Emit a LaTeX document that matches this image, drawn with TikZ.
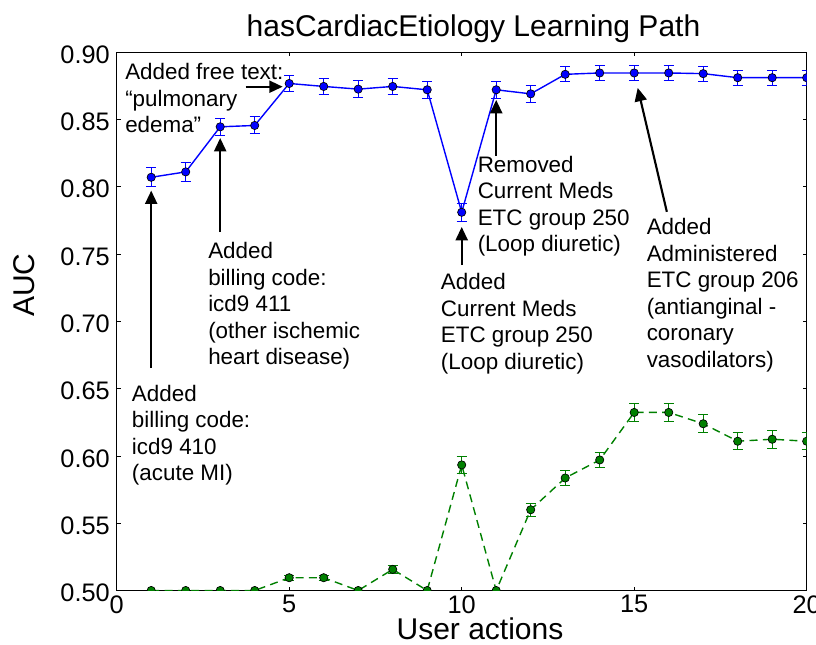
\documentclass[tikz,border=0pt]{standalone}
\usepackage{fontspec}
\setmainfont{Liberation Sans}
\usetikzlibrary{arrows.meta}
\definecolor{mplgreen}{rgb}{0,0.5,0}
\tikzstyle{note} = [anchor=north west, inner sep=0pt, align=left, font=\fontsize{16.8}{19.9}\selectfont]
\tikzstyle{callout} = [draw, line width=1.6pt, -{Triangle[length=10pt,width=9pt]}]
\tikzstyle{ticklabel} = [inner sep=0pt, font=\fontsize{19}{22}\selectfont]
\tikzstyle{axislabel} = [inner sep=0pt, font=\fontsize{22.5}{26}\selectfont]
\tikzstyle{errbar} = [line width=0.75pt]
\tikzstyle{aucline} = [draw=blue, line width=1.05pt]
\tikzstyle{baseline} = [draw=mplgreen, line width=1.05pt, dash pattern=on 6pt off 4pt]
\tikzstyle{aucdot} = [circle, draw=black, line width=0.5pt, fill=blue, inner sep=0pt, minimum size=6.2pt]
\tikzstyle{basedot} = [aucdot, fill=mplgreen]

\begin{document}
\begin{tikzpicture}[x=0.75pt, y=-0.75pt]
        \useasboundingbox (0,0) rectangle (816,644);

        \node[axislabel, anchor=base] (title) at (473.5,36) {hasCardiacEtiology Learning Path};
        \node[axislabel, anchor=base] (xlabel) at (480,639) {User actions};
        \node[axislabel, rotate=90] (ylabel) at (24,285) {AUC};

        \begin{scope}[shift={(116.7,590.5)}, x=25.875pt, y=1009.5pt, shift={(0,-0.5)}]
            \draw[line width=0.75pt] (0,0.5) rectangle (20,0.9);
            \foreach \t in {0,5,10,15,20} {
                \draw[line width=0.6pt] (\t,0.5) -- ++(0,3pt) (\t,0.9) -- ++(0,-3pt);
                \node[ticklabel, anchor=north] (xt\t) at ([yshift=-3.4pt]\t,0.5) {\t};
            }
            \foreach \v [count=\k] in {0.50,0.55,0.60,0.65,0.70,0.75,0.80,0.85,0.90} {
                \draw[line width=0.6pt] (0,\v) -- ++(3pt,0) (20,\v) -- ++(-3pt,0);
                \node[ticklabel, anchor=east] (yt\k) at ([xshift=-5pt, yshift=-1.8pt]0,\v) {\v};
            }

            \begin{scope}
                \clip (0,0.5) rectangle (20,0.9);

                \foreach \i/\v/\e in {1/0.807/0.0070, 2/0.811/0.0070, 3/0.8445/0.0063, 4/0.8455/0.0063,
                        5/0.8767/0.0057, 6/0.8745/0.0057, 7/0.8725/0.0062, 8/0.8745/0.0060,
                        9/0.872/0.0062, 10/0.781/0.0066, 11/0.872/0.0062, 12/0.869/0.0062,
                        13/0.8835/0.0056, 14/0.8845/0.0056, 15/0.8845/0.0056, 16/0.8845/0.0056,
                        17/0.884/0.0056, 18/0.881/0.0056, 19/0.881/0.0056, 20/0.881/0.0056} {
                    \coordinate (b\i) at (\i,\v);
                    \draw[errbar, blue] (\i,\v-\e) -- (\i,\v+\e)
                        ([xshift=-3.9pt]\i,\v-\e) -- ([xshift=3.9pt]\i,\v-\e)
                        ([xshift=-3.9pt]\i,\v+\e) -- ([xshift=3.9pt]\i,\v+\e);
                }
                \foreach \i/\v/\e in {1/0.50/0, 2/0.50/0, 3/0.50/0, 4/0.50/0,
                        5/0.5095/0.0020, 6/0.5095/0.0020, 7/0.50/0, 8/0.5157/0.0030,
                        9/0.50/0, 10/0.5933/0.0064, 11/0.50/0, 12/0.560/0.0050,
                        13/0.5836/0.0056, 14/0.597/0.0058, 15/0.6323/0.0069, 16/0.6323/0.0069,
                        17/0.6239/0.0067, 18/0.6109/0.0063, 19/0.6124/0.0066, 20/0.6109/0.0063} {
                    \coordinate (g\i) at (\i,\v);
                    \ifdim\e pt>0pt
                        \draw[errbar, mplgreen] (\i,\v-\e) -- (\i,\v+\e)
                            ([xshift=-3.9pt]\i,\v-\e) -- ([xshift=3.9pt]\i,\v-\e)
                            ([xshift=-3.9pt]\i,\v+\e) -- ([xshift=3.9pt]\i,\v+\e);
                    \fi
                }

                \path[aucline] (b1) \foreach \i in {2,...,20} {-- (b\i)};
                \path[baseline] (g1) \foreach \i in {2,...,20} {-- (g\i)};
                \foreach \i in {1,...,20} {
                    \node[aucdot] (db\i) at (b\i) {};
                    \node[basedot] (dg\i) at (g\i) {};
                }
            \end{scope}
        \end{scope}

        \node[note] (n1) at (131.7,384.7) {Added\\billing code:\\icd9 410\\(acute MI)};
        \draw[callout, shorten <=12.5pt, shorten >=10pt] (n1.north -| b1) -- (b1);

        \node[note] (n3) at (208,242) {Added\\billing code:\\icd9 411\\(other ischemic\\heart disease)};
        \draw[callout, shorten <=7.5pt, shorten >=8.4pt] (n3.north -| b3) -- (b3);

        \node[note] (n5) at (125,63.3) {Added free text:\\“pulmonary\\edema”};
        \coordinate (n5tail) at (245.7,86.7);
        \draw[callout, shorten >=4.9pt] (n5tail) -- (n5tail -| b5);

        \node[note] (n10) at (440.7,273.3) {Added\\Current Meds\\ETC group 250\\(Loop diuretic)};
        \draw[callout, shorten <=6.2pt, shorten >=11pt] (n10.north -| b10) -- (b10);

        \node[note] (n11) at (477.5,155.7) {Removed\\Current Meds\\ETC group 250\\(Loop diuretic)};
        \draw[callout, shorten >=7.6pt] (n11.north -| b11) -- (b11);

        \node[note] (n15) at (646.5,218.3) {Added\\Administered\\ETC group 206\\(antianginal -\\coronary\\vasodilators)};
        \draw[callout, shorten <=5pt, shorten >=11.5pt] ([xshift=16.4pt]n15.north west) -- (b15);
    \end{tikzpicture}
\end{document}
